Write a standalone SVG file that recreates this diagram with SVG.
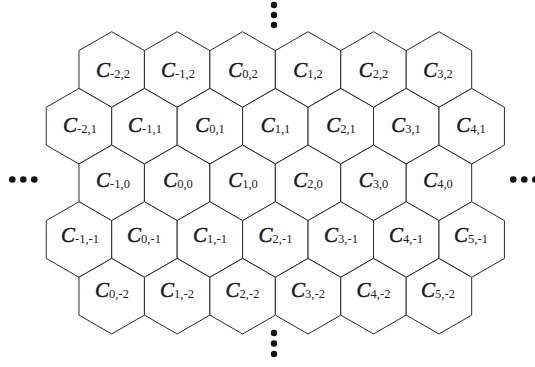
<svg xmlns="http://www.w3.org/2000/svg" xmlns:xlink="http://www.w3.org/1999/xlink" width="535" height="367" viewBox="0 0 535 367">
<style>
.hx{fill:#fff;stroke:#2a2a2a;stroke-width:1}
.lb{font-family:"Liberation Serif","Times New Roman",serif;fill:#1a1a1a;text-anchor:middle}
.c{font-style:italic;font-size:21px;stroke:#1a1a1a;stroke-width:0.5}
.s{font-size:12.5px}
.dot{fill:#111}
</style>
<defs>
<polygon id="hex" points="0,-37.79 32.73,-18.9 32.73,18.9 0,37.79 -32.73,18.9 -32.73,-18.9"/>
</defs>
<g id="row0">
<g id="c-2_2"><use xlink:href="#hex" class="hx" x="111.7" y="69.5"/><text class="lb" x="113" y="77"><tspan class="c">C</tspan><tspan class="s" dy="1">-2,2</tspan></text></g>
<g id="c-1_2"><use xlink:href="#hex" class="hx" x="177.15" y="69.5"/><text class="lb" x="178" y="77"><tspan class="c">C</tspan><tspan class="s" dy="1">-1,2</tspan></text></g>
<g id="c0_2"><use xlink:href="#hex" class="hx" x="242.6" y="69.5"/><text class="lb" x="243" y="77"><tspan class="c">C</tspan><tspan class="s" dy="1">0,2</tspan></text></g>
<g id="c1_2"><use xlink:href="#hex" class="hx" x="308.05" y="69.5"/><text class="lb" x="308" y="77"><tspan class="c">C</tspan><tspan class="s" dy="1">1,2</tspan></text></g>
<g id="c2_2"><use xlink:href="#hex" class="hx" x="373.5" y="69.5"/><text class="lb" x="373.5" y="77"><tspan class="c">C</tspan><tspan class="s" dy="1">2,2</tspan></text></g>
<g id="c3_2"><use xlink:href="#hex" class="hx" x="438.95" y="69.5"/><text class="lb" x="438" y="77"><tspan class="c">C</tspan><tspan class="s" dy="1">3,2</tspan></text></g>
</g>
<g id="row1">
<g id="c-2_1"><use xlink:href="#hex" class="hx" x="79" y="126.2"/><text class="lb" x="80" y="132"><tspan class="c">C</tspan><tspan class="s" dy="1">-2,1</tspan></text></g>
<g id="c-1_1"><use xlink:href="#hex" class="hx" x="144.45" y="126.2"/><text class="lb" x="145" y="132"><tspan class="c">C</tspan><tspan class="s" dy="1">-1,1</tspan></text></g>
<g id="c0_1"><use xlink:href="#hex" class="hx" x="209.9" y="126.2"/><text class="lb" x="210" y="132"><tspan class="c">C</tspan><tspan class="s" dy="1">0,1</tspan></text></g>
<g id="c1_1"><use xlink:href="#hex" class="hx" x="275.35" y="126.2"/><text class="lb" x="275.5" y="132"><tspan class="c">C</tspan><tspan class="s" dy="1">1,1</tspan></text></g>
<g id="c2_1"><use xlink:href="#hex" class="hx" x="340.8" y="126.2"/><text class="lb" x="341" y="132"><tspan class="c">C</tspan><tspan class="s" dy="1">2,1</tspan></text></g>
<g id="c3_1"><use xlink:href="#hex" class="hx" x="406.25" y="126.2"/><text class="lb" x="406" y="132"><tspan class="c">C</tspan><tspan class="s" dy="1">3,1</tspan></text></g>
<g id="c4_1"><use xlink:href="#hex" class="hx" x="471.7" y="126.2"/><text class="lb" x="471" y="132"><tspan class="c">C</tspan><tspan class="s" dy="1">4,1</tspan></text></g>
</g>
<g id="row2">
<g id="c-1_0"><use xlink:href="#hex" class="hx" x="111.7" y="182.9"/><text class="lb" x="113" y="187"><tspan class="c">C</tspan><tspan class="s" dy="1">-1,0</tspan></text></g>
<g id="c0_0"><use xlink:href="#hex" class="hx" x="177.15" y="182.9"/><text class="lb" x="178" y="187"><tspan class="c">C</tspan><tspan class="s" dy="1">0,0</tspan></text></g>
<g id="c1_0"><use xlink:href="#hex" class="hx" x="242.6" y="182.9"/><text class="lb" x="243" y="187"><tspan class="c">C</tspan><tspan class="s" dy="1">1,0</tspan></text></g>
<g id="c2_0"><use xlink:href="#hex" class="hx" x="308.05" y="182.9"/><text class="lb" x="308" y="187"><tspan class="c">C</tspan><tspan class="s" dy="1">2,0</tspan></text></g>
<g id="c3_0"><use xlink:href="#hex" class="hx" x="373.5" y="182.9"/><text class="lb" x="373.5" y="187"><tspan class="c">C</tspan><tspan class="s" dy="1">3,0</tspan></text></g>
<g id="c4_0"><use xlink:href="#hex" class="hx" x="438.95" y="182.9"/><text class="lb" x="438" y="187"><tspan class="c">C</tspan><tspan class="s" dy="1">4,0</tspan></text></g>
</g>
<g id="row3">
<g id="c-1_-1"><use xlink:href="#hex" class="hx" x="79" y="239.5"/><text class="lb" x="80" y="241.5"><tspan class="c">C</tspan><tspan class="s" dy="1">-1,-1</tspan></text></g>
<g id="c0_-1"><use xlink:href="#hex" class="hx" x="144.45" y="239.5"/><text class="lb" x="144" y="241.5"><tspan class="c">C</tspan><tspan class="s" dy="1">0,-1</tspan></text></g>
<g id="c1_-1"><use xlink:href="#hex" class="hx" x="209.9" y="239.5"/><text class="lb" x="210" y="241.5"><tspan class="c">C</tspan><tspan class="s" dy="1">1,-1</tspan></text></g>
<g id="c2_-1"><use xlink:href="#hex" class="hx" x="275.35" y="239.5"/><text class="lb" x="275.5" y="241.5"><tspan class="c">C</tspan><tspan class="s" dy="1">2,-1</tspan></text></g>
<g id="c3_-1"><use xlink:href="#hex" class="hx" x="340.8" y="239.5"/><text class="lb" x="341" y="241.5"><tspan class="c">C</tspan><tspan class="s" dy="1">3,-1</tspan></text></g>
<g id="c4_-1"><use xlink:href="#hex" class="hx" x="406.25" y="239.5"/><text class="lb" x="406" y="241.5"><tspan class="c">C</tspan><tspan class="s" dy="1">4,-1</tspan></text></g>
<g id="c5_-1"><use xlink:href="#hex" class="hx" x="471.7" y="239.5"/><text class="lb" x="471" y="241.5"><tspan class="c">C</tspan><tspan class="s" dy="1">5,-1</tspan></text></g>
</g>
<g id="row4">
<g id="c0_-2"><use xlink:href="#hex" class="hx" x="111.7" y="296.2"/><text class="lb" x="112" y="296.5"><tspan class="c">C</tspan><tspan class="s" dy="1">0,-2</tspan></text></g>
<g id="c1_-2"><use xlink:href="#hex" class="hx" x="177.15" y="296.2"/><text class="lb" x="177" y="296.5"><tspan class="c">C</tspan><tspan class="s" dy="1">1,-2</tspan></text></g>
<g id="c2_-2"><use xlink:href="#hex" class="hx" x="242.6" y="296.2"/><text class="lb" x="242.5" y="296.5"><tspan class="c">C</tspan><tspan class="s" dy="1">2,-2</tspan></text></g>
<g id="c3_-2"><use xlink:href="#hex" class="hx" x="308.05" y="296.2"/><text class="lb" x="308" y="296.5"><tspan class="c">C</tspan><tspan class="s" dy="1">3,-2</tspan></text></g>
<g id="c4_-2"><use xlink:href="#hex" class="hx" x="373.5" y="296.2"/><text class="lb" x="373.5" y="296.5"><tspan class="c">C</tspan><tspan class="s" dy="1">4,-2</tspan></text></g>
<g id="c5_-2"><use xlink:href="#hex" class="hx" x="438.95" y="296.2"/><text class="lb" x="438" y="296.5"><tspan class="c">C</tspan><tspan class="s" dy="1">5,-2</tspan></text></g>
</g>
<g id="connectors"></g>
<g id="ellipses">
<circle class="dot" cx="274" cy="5" r="3.2"/><circle class="dot" cx="274" cy="15" r="3.2"/><circle class="dot" cx="274" cy="25" r="3.2"/>
<circle class="dot" cx="274" cy="333" r="3.2"/><circle class="dot" cx="274" cy="343.5" r="3.2"/><circle class="dot" cx="274" cy="354" r="3.2"/>
<circle class="dot" cx="12.3" cy="179.5" r="3.3"/><circle class="dot" cx="23.3" cy="179.5" r="3.3"/><circle class="dot" cx="34.3" cy="179.5" r="3.3"/>
<circle class="dot" cx="513.3" cy="179.5" r="3.3"/><circle class="dot" cx="524.3" cy="179.5" r="3.3"/><circle class="dot" cx="535.3" cy="179.5" r="3.3"/>
</g>
</svg>
